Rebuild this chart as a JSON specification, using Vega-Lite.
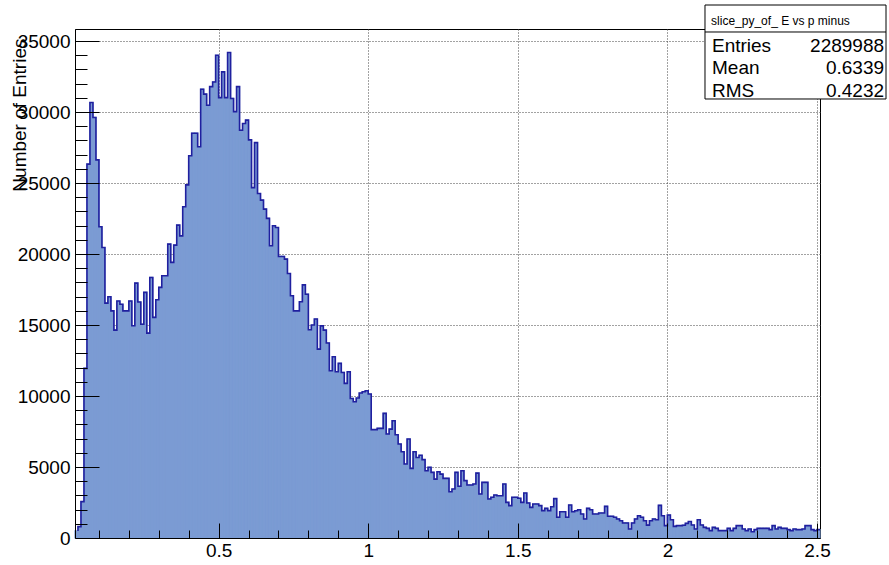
{
  "$schema": "https://vega.github.io/schema/vega-lite/v6.json",
  "width": 745,
  "height": 509,
  "autosize": {"type": "none"},
  "padding": {"left": 75, "top": 29, "right": 69, "bottom": 27},
  "background": "white",
  "config": {
    "view": {"stroke": "black", "strokeWidth": 1},
    "font": "Liberation Sans",
    "axis": {"labelFont": "Liberation Sans", "titleFont": "Liberation Sans", "labelColor": "black", "titleColor": "black", "tickColor": "black", "domainColor": "black"}
  },
  "datasets": {
    "hist": [
      {"lo":0.02,"hi":0.03,"n":500},{"lo":0.03,"hi":0.04,"n":800},{"lo":0.04,"hi":0.05,"n":2560},{"lo":0.05,"hi":0.06,"n":11950},
      {"lo":0.06,"hi":0.07,"n":26330},{"lo":0.07,"hi":0.08,"n":30670},{"lo":0.08,"hi":0.09,"n":29620},{"lo":0.09,"hi":0.10,"n":26630},
      {"lo":0.10,"hi":0.11,"n":21920},{"lo":0.11,"hi":0.12,"n":20460},{"lo":0.12,"hi":0.13,"n":16540},{"lo":0.13,"hi":0.14,"n":16990},
      {"lo":0.14,"hi":0.15,"n":16000},{"lo":0.15,"hi":0.16,"n":14640},{"lo":0.16,"hi":0.17,"n":16690},{"lo":0.17,"hi":0.18,"n":16460},
      {"lo":0.18,"hi":0.19,"n":16000},{"lo":0.19,"hi":0.20,"n":16000},{"lo":0.20,"hi":0.21,"n":16690},{"lo":0.21,"hi":0.22,"n":14950},
      {"lo":0.22,"hi":0.23,"n":17950},{"lo":0.23,"hi":0.24,"n":16620},{"lo":0.24,"hi":0.25,"n":15060},{"lo":0.25,"hi":0.26,"n":17300},
      {"lo":0.26,"hi":0.27,"n":14430},{"lo":0.27,"hi":0.28,"n":18350},{"lo":0.28,"hi":0.29,"n":15540},{"lo":0.29,"hi":0.30,"n":16780},
      {"lo":0.30,"hi":0.31,"n":17650},{"lo":0.31,"hi":0.32,"n":18470},{"lo":0.32,"hi":0.33,"n":18470},{"lo":0.33,"hi":0.34,"n":20700},
      {"lo":0.34,"hi":0.35,"n":19410},{"lo":0.35,"hi":0.36,"n":20630},{"lo":0.36,"hi":0.37,"n":22040},{"lo":0.37,"hi":0.38,"n":21280},
      {"lo":0.38,"hi":0.39,"n":23330},{"lo":0.39,"hi":0.40,"n":24870},{"lo":0.40,"hi":0.41,"n":26920},{"lo":0.41,"hi":0.42,"n":28510},
      {"lo":0.42,"hi":0.43,"n":28510},{"lo":0.43,"hi":0.44,"n":27560},{"lo":0.44,"hi":0.45,"n":31610},{"lo":0.45,"hi":0.46,"n":31260},
      {"lo":0.46,"hi":0.47,"n":30480},{"lo":0.47,"hi":0.48,"n":31790},{"lo":0.48,"hi":0.49,"n":32120},{"lo":0.49,"hi":0.50,"n":34000},
      {"lo":0.50,"hi":0.51,"n":31020},{"lo":0.51,"hi":0.52,"n":32830},{"lo":0.52,"hi":0.53,"n":31020},{"lo":0.53,"hi":0.54,"n":34190},
      {"lo":0.54,"hi":0.55,"n":30960},{"lo":0.55,"hi":0.56,"n":30030},{"lo":0.56,"hi":0.57,"n":31790},{"lo":0.57,"hi":0.58,"n":28720},
      {"lo":0.58,"hi":0.59,"n":29190},{"lo":0.59,"hi":0.60,"n":29430},{"lo":0.60,"hi":0.61,"n":28040},{"lo":0.61,"hi":0.62,"n":24680},
      {"lo":0.62,"hi":0.63,"n":27850},{"lo":0.63,"hi":0.64,"n":24260},{"lo":0.64,"hi":0.65,"n":23800},{"lo":0.65,"hi":0.66,"n":23160},
      {"lo":0.66,"hi":0.67,"n":22510},{"lo":0.67,"hi":0.68,"n":20580},{"lo":0.68,"hi":0.69,"n":21990},{"lo":0.69,"hi":0.70,"n":21870},
      {"lo":0.70,"hi":0.71,"n":19830},{"lo":0.71,"hi":0.72,"n":19830},{"lo":0.72,"hi":0.73,"n":19640},{"lo":0.73,"hi":0.74,"n":18630},
      {"lo":0.74,"hi":0.75,"n":17060},{"lo":0.75,"hi":0.76,"n":16000},{"lo":0.76,"hi":0.77,"n":16000},{"lo":0.77,"hi":0.78,"n":16640},
      {"lo":0.78,"hi":0.79,"n":17830},{"lo":0.79,"hi":0.80,"n":17170},{"lo":0.80,"hi":0.81,"n":14670},{"lo":0.81,"hi":0.82,"n":15000},
      {"lo":0.82,"hi":0.83,"n":15420},{"lo":0.83,"hi":0.84,"n":13300},{"lo":0.84,"hi":0.85,"n":14940},{"lo":0.85,"hi":0.86,"n":14640},
      {"lo":0.86,"hi":0.87,"n":13730},{"lo":0.87,"hi":0.88,"n":11780},{"lo":0.88,"hi":0.89,"n":12770},{"lo":0.89,"hi":0.90,"n":11710},
      {"lo":0.90,"hi":0.91,"n":12300},{"lo":0.91,"hi":0.92,"n":11660},{"lo":0.92,"hi":0.93,"n":10890},{"lo":0.93,"hi":0.94,"n":11710},
      {"lo":0.94,"hi":0.95,"n":9830},{"lo":0.95,"hi":0.96,"n":9600},{"lo":0.96,"hi":0.97,"n":9860},{"lo":0.97,"hi":0.98,"n":10210},
      {"lo":0.98,"hi":0.99,"n":10300},{"lo":0.99,"hi":1.00,"n":10370},{"lo":1.00,"hi":1.01,"n":10140},{"lo":1.01,"hi":1.02,"n":7630},
      {"lo":1.02,"hi":1.03,"n":7630},{"lo":1.03,"hi":1.04,"n":7720},{"lo":1.04,"hi":1.05,"n":7720},{"lo":1.05,"hi":1.06,"n":8780},
      {"lo":1.06,"hi":1.07,"n":7320},{"lo":1.07,"hi":1.08,"n":7670},{"lo":1.08,"hi":1.09,"n":8260},{"lo":1.09,"hi":1.10,"n":7270},
      {"lo":1.10,"hi":1.11,"n":6620},{"lo":1.11,"hi":1.12,"n":6080},{"lo":1.12,"hi":1.13,"n":5210},{"lo":1.13,"hi":1.14,"n":6970},
      {"lo":1.14,"hi":1.15,"n":4900},{"lo":1.15,"hi":1.16,"n":6080},{"lo":1.16,"hi":1.17,"n":5670},{"lo":1.17,"hi":1.18,"n":5830},
      {"lo":1.18,"hi":1.19,"n":5520},{"lo":1.19,"hi":1.20,"n":4740},{"lo":1.20,"hi":1.21,"n":4980},{"lo":1.21,"hi":1.22,"n":4620},
      {"lo":1.22,"hi":1.23,"n":4150},{"lo":1.23,"hi":1.24,"n":4670},{"lo":1.24,"hi":1.25,"n":4500},{"lo":1.25,"hi":1.26,"n":4200},
      {"lo":1.26,"hi":1.27,"n":4200},{"lo":1.27,"hi":1.28,"n":3260},{"lo":1.28,"hi":1.29,"n":3450},{"lo":1.29,"hi":1.30,"n":4620},
      {"lo":1.30,"hi":1.31,"n":3640},{"lo":1.31,"hi":1.32,"n":4740},{"lo":1.32,"hi":1.33,"n":4040},{"lo":1.33,"hi":1.34,"n":3730},
      {"lo":1.34,"hi":1.35,"n":3730},{"lo":1.35,"hi":1.36,"n":3800},{"lo":1.36,"hi":1.37,"n":4570},{"lo":1.37,"hi":1.38,"n":3100},
      {"lo":1.38,"hi":1.39,"n":3920},{"lo":1.39,"hi":1.40,"n":3920},{"lo":1.40,"hi":1.41,"n":2750},{"lo":1.41,"hi":1.42,"n":2870},
      {"lo":1.42,"hi":1.43,"n":3030},{"lo":1.43,"hi":1.44,"n":2980},{"lo":1.44,"hi":1.45,"n":2980},{"lo":1.45,"hi":1.46,"n":3800},
      {"lo":1.46,"hi":1.47,"n":2510},{"lo":1.47,"hi":1.48,"n":2280},{"lo":1.48,"hi":1.49,"n":2870},{"lo":1.49,"hi":1.50,"n":2870},
      {"lo":1.50,"hi":1.51,"n":2800},{"lo":1.51,"hi":1.52,"n":2510},{"lo":1.52,"hi":1.53,"n":3170},{"lo":1.53,"hi":1.54,"n":2470},
      {"lo":1.54,"hi":1.55,"n":2160},{"lo":1.55,"hi":1.56,"n":2390},{"lo":1.56,"hi":1.57,"n":2390},{"lo":1.57,"hi":1.58,"n":2280},
      {"lo":1.58,"hi":1.59,"n":1930},{"lo":1.59,"hi":1.60,"n":2090},{"lo":1.60,"hi":1.61,"n":1930},{"lo":1.61,"hi":1.62,"n":2200},
      {"lo":1.62,"hi":1.63,"n":2770},{"lo":1.63,"hi":1.64,"n":1460},{"lo":1.64,"hi":1.65,"n":1850},{"lo":1.65,"hi":1.66,"n":1850},
      {"lo":1.66,"hi":1.67,"n":1460},{"lo":1.67,"hi":1.68,"n":2320},{"lo":1.68,"hi":1.69,"n":1850},{"lo":1.69,"hi":1.70,"n":1920},
      {"lo":1.70,"hi":1.71,"n":1990},{"lo":1.71,"hi":1.72,"n":1690},{"lo":1.72,"hi":1.73,"n":1340},{"lo":1.73,"hi":1.74,"n":2090},
      {"lo":1.74,"hi":1.75,"n":1990},{"lo":1.75,"hi":1.76,"n":1690},{"lo":1.76,"hi":1.77,"n":1690},{"lo":1.77,"hi":1.78,"n":1760},
      {"lo":1.78,"hi":1.79,"n":1760},{"lo":1.79,"hi":1.80,"n":2230},{"lo":1.80,"hi":1.81,"n":1530},{"lo":1.81,"hi":1.82,"n":1530},
      {"lo":1.82,"hi":1.83,"n":1460},{"lo":1.83,"hi":1.84,"n":1340},{"lo":1.84,"hi":1.85,"n":1220},{"lo":1.85,"hi":1.86,"n":1060},
      {"lo":1.86,"hi":1.87,"n":1060},{"lo":1.87,"hi":1.88,"n":630},{"lo":1.88,"hi":1.89,"n":1060},{"lo":1.89,"hi":1.90,"n":1340},
      {"lo":1.90,"hi":1.91,"n":1570},{"lo":1.91,"hi":1.92,"n":1460},{"lo":1.92,"hi":1.93,"n":1220},{"lo":1.93,"hi":1.94,"n":910},
      {"lo":1.94,"hi":1.95,"n":1220},{"lo":1.95,"hi":1.96,"n":1340},{"lo":1.96,"hi":1.97,"n":1290},{"lo":1.97,"hi":1.98,"n":2300},
      {"lo":1.98,"hi":1.99,"n":1570},{"lo":1.99,"hi":2.00,"n":870},{"lo":2.00,"hi":2.01,"n":1620},{"lo":2.01,"hi":2.02,"n":1290},
      {"lo":2.02,"hi":2.03,"n":820},{"lo":2.03,"hi":2.04,"n":870},{"lo":2.04,"hi":2.05,"n":870},{"lo":2.05,"hi":2.06,"n":900},
      {"lo":2.06,"hi":2.07,"n":1030},{"lo":2.07,"hi":2.08,"n":1160},{"lo":2.08,"hi":2.09,"n":915},{"lo":2.09,"hi":2.10,"n":634},
      {"lo":2.10,"hi":2.11,"n":1290},{"lo":2.11,"hi":2.12,"n":915},{"lo":2.12,"hi":2.13,"n":750},{"lo":2.13,"hi":2.14,"n":680},
      {"lo":2.14,"hi":2.15,"n":516},{"lo":2.15,"hi":2.16,"n":750},{"lo":2.16,"hi":2.17,"n":680},{"lo":2.17,"hi":2.18,"n":516},
      {"lo":2.18,"hi":2.19,"n":516},{"lo":2.19,"hi":2.20,"n":516},{"lo":2.20,"hi":2.21,"n":680},{"lo":2.21,"hi":2.22,"n":516},
      {"lo":2.22,"hi":2.23,"n":680},{"lo":2.23,"hi":2.24,"n":870},{"lo":2.24,"hi":2.25,"n":870},{"lo":2.25,"hi":2.26,"n":634},
      {"lo":2.26,"hi":2.27,"n":516},{"lo":2.27,"hi":2.28,"n":634},{"lo":2.28,"hi":2.29,"n":445},{"lo":2.29,"hi":2.30,"n":587},
      {"lo":2.30,"hi":2.31,"n":680},{"lo":2.31,"hi":2.32,"n":680},{"lo":2.32,"hi":2.33,"n":680},{"lo":2.33,"hi":2.34,"n":680},
      {"lo":2.34,"hi":2.35,"n":587},{"lo":2.35,"hi":2.36,"n":870},{"lo":2.36,"hi":2.37,"n":634},{"lo":2.37,"hi":2.38,"n":750},
      {"lo":2.38,"hi":2.39,"n":680},{"lo":2.39,"hi":2.40,"n":680},{"lo":2.40,"hi":2.41,"n":587},{"lo":2.41,"hi":2.42,"n":516},
      {"lo":2.42,"hi":2.43,"n":634},{"lo":2.43,"hi":2.44,"n":587},{"lo":2.44,"hi":2.45,"n":587},{"lo":2.45,"hi":2.46,"n":634},
      {"lo":2.46,"hi":2.47,"n":870},{"lo":2.47,"hi":2.48,"n":870},{"lo":2.48,"hi":2.49,"n":587},{"lo":2.49,"hi":2.50,"n":516},
      {"lo":2.50,"hi":2.51,"n":587}
    ]
  },
  "layer": [
    {
      "data": {"name": "hist"},
      "mark": {"type": "rect", "color": "#7b9bd3", "stroke": "#7b9bd3", "strokeWidth": 1.2},
      "encoding": {
        "x": {"field": "lo", "type": "quantitative",
              "scale": {"domain": [0.02, 2.51], "nice": false, "zero": false},
              "axis": {"orient": "bottom", "values": [0.5, 1, 1.5, 2, 2.5], "format": "~g", "ticks": false, "domain": false,
                       "grid": true, "gridDash": [1, 2], "gridColor": "#444", "gridWidth": 1,
                       "labelFontSize": 19, "labelPadding": 3, "labelFlush": false, "title": null, "zindex": 0}},
        "x2": {"field": "hi"},
        "y": {"field": "n", "type": "quantitative",
              "scale": {"domain": [0, 35850], "nice": false},
              "axis": {"orient": "left", "values": [0, 5000, 10000, 15000, 20000, 25000, 30000, 35000], "format": "d",
                       "ticks": false, "domain": false, "grid": true, "gridDash": [1, 2], "gridColor": "#444", "gridWidth": 1,
                       "labelFontSize": 19, "labelPadding": 5, "labelFlush": false,
                       "title": "Number of Entries", "titleFontSize": 19, "titleFontWeight": "normal",
                       "titleAngle": 270, "titleAnchor": "end", "titleAlign": "right", "titleBaseline": "alphabetic",
                       "titleX": -50, "titleY": 9, "zindex": 0}},
        "y2": {"datum": 0}
      }
    },
    {
      "data": {"name": "hist"},
      "mark": {"type": "line", "interpolate": "step-before", "color": "#20209f", "strokeWidth": 1.6},
      "encoding": {
        "x": {"field": "hi", "type": "quantitative",
              "scale": {"domain": [0.02, 2.51], "nice": false, "zero": false},
              "axis": {"orient": "bottom", "values": [0.5, 1, 1.5, 2, 2.5], "labels": false, "grid": false,
                       "domain": true, "ticks": true, "tickSize": -15, "tickWidth": 1, "title": null, "zindex": 1}},
        "y": {"field": "n", "type": "quantitative",
              "scale": {"domain": [0, 35850], "nice": false},
              "axis": {"orient": "left", "values": [5000, 10000, 15000, 20000, 25000, 30000, 35000], "labels": false, "grid": false,
                       "domain": true, "ticks": true, "tickSize": -24, "tickWidth": 1, "title": null, "zindex": 1}}
      }
    },
    {
      "data": {"name": "hist"},
      "mark": {"type": "point", "opacity": 0},
      "encoding": {
        "x": {"field": "lo", "type": "quantitative",
              "scale": {"domain": [0.02, 2.51], "nice": false, "zero": false},
              "axis": {"orient": "bottom", "values": [0.1,0.2,0.3,0.4,0.6,0.7,0.8,0.9,1.1,1.2,1.3,1.4,1.6,1.7,1.8,1.9,2.1,2.2,2.3,2.4],
                       "labels": false, "grid": false, "domain": false, "ticks": true, "tickSize": -8, "tickWidth": 1, "title": null, "zindex": 1}},
        "y": {"field": "n", "type": "quantitative",
              "scale": {"domain": [0, 35850], "nice": false},
              "axis": {"orient": "left", "values": [1000,2000,3000,4000,6000,7000,8000,9000,11000,12000,13000,14000,16000,17000,18000,19000,21000,22000,23000,24000,26000,27000,28000,29000,31000,32000,33000,34000],
                       "labels": false, "grid": false, "domain": false, "ticks": true, "tickSize": -12, "tickWidth": 1, "title": null, "zindex": 1}}
      }
    },
    {
      "data": {"values": [{}]},
      "mark": {"type": "rect", "fill": "white", "stroke": "black", "strokeWidth": 1},
      "encoding": {
        "x": {"datum": 2.1256, "type": "quantitative", "axis": null},
        "x2": {"datum": 2.7306},
        "y": {"datum": 37540, "type": "quantitative", "axis": null},
        "y2": {"datum": 30920}
      }
    },
    {
      "data": {"values": [{}]},
      "mark": {"type": "rule", "color": "black", "strokeWidth": 1},
      "encoding": {
        "x": {"datum": 2.1256, "type": "quantitative", "axis": null},
        "x2": {"datum": 2.7306},
        "y": {"datum": 35639, "type": "quantitative", "axis": null}
      }
    },
    {
      "data": {"values": [{}]},
      "mark": {"type": "text", "text": "slice_py_of_ E vs p minus", "align": "left", "baseline": "middle", "fontSize": 12, "font": "Liberation Sans", "color": "black"},
      "encoding": {
        "x": {"datum": 2.146, "type": "quantitative", "axis": null},
        "y": {"datum": 36413, "type": "quantitative", "axis": null}
      }
    },
    {
      "data": {"values": [{}]},
      "mark": {"type": "text", "text": ["Entries", "Mean", "RMS"], "align": "left", "baseline": "middle", "lineHeight": 22.3, "fontSize": 19, "font": "Liberation Sans", "color": "black"},
      "encoding": {
        "x": {"datum": 2.149, "type": "quantitative", "axis": null},
        "y": {"datum": 34653, "type": "quantitative", "axis": null}
      }
    },
    {
      "data": {"values": [{}]},
      "mark": {"type": "text", "text": ["2289988", "0.6339", "0.4232"], "align": "right", "baseline": "middle", "lineHeight": 22.3, "fontSize": 19, "font": "Liberation Sans", "color": "black"},
      "encoding": {
        "x": {"datum": 2.724, "type": "quantitative", "axis": null},
        "y": {"datum": 34653, "type": "quantitative", "axis": null}
      }
    }
  ],
  "resolve": {"axis": {"x": "independent", "y": "independent"}}
}
